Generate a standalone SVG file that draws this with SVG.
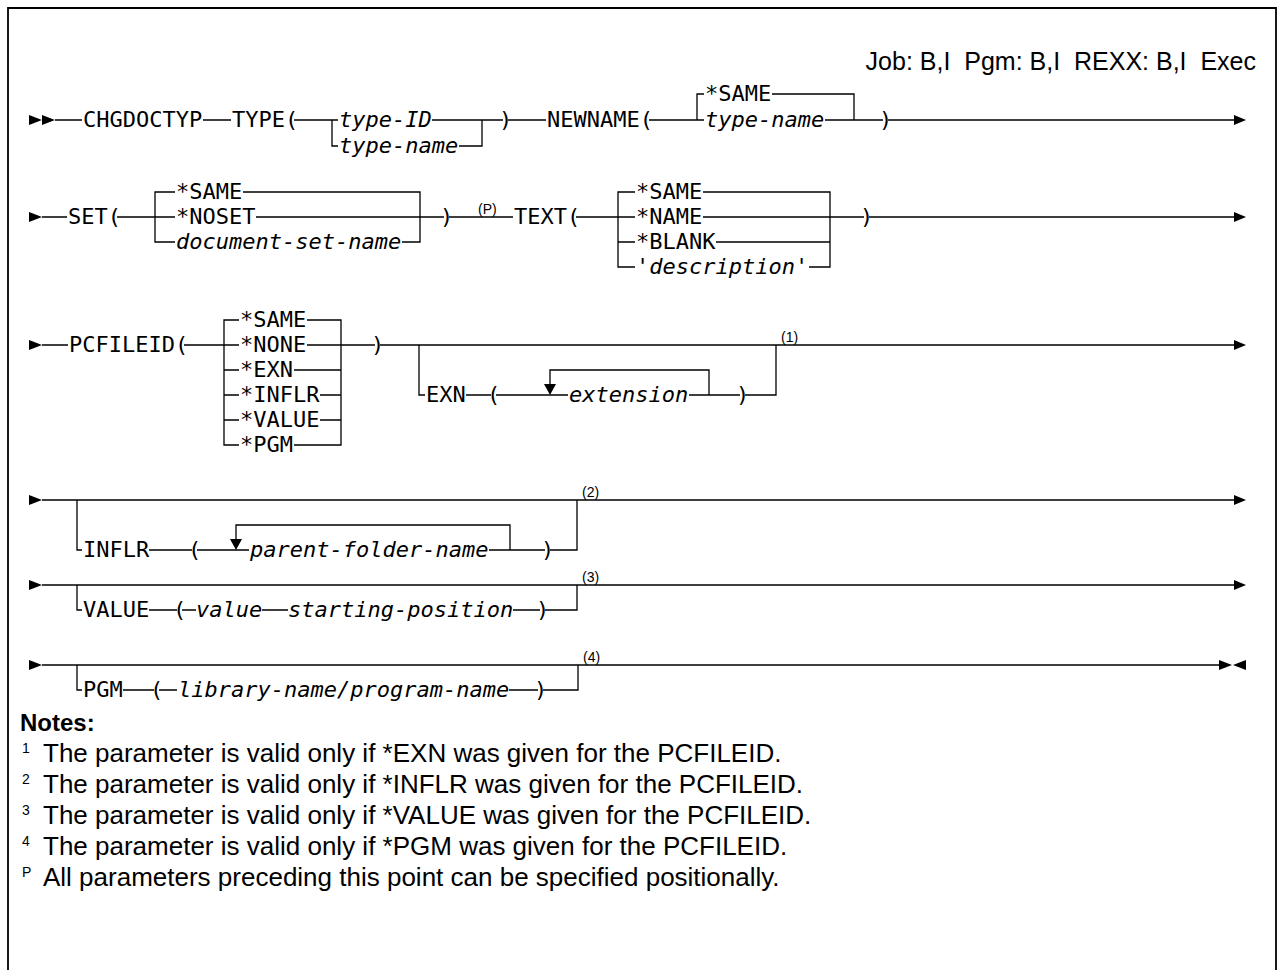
<svg xmlns="http://www.w3.org/2000/svg" width="1279" height="970" viewBox="0 0 1279 970">
<style>
.fr{stroke:#000;stroke-width:1.8;fill:none}
.l{stroke:#000;stroke-width:1.3;fill:none}
.a{fill:#000}
.k{font-family:"DejaVu Sans Mono",monospace;font-size:22px;fill:#000}
.v{font-style:italic}
.s{font-family:"Liberation Sans",Arial,sans-serif;font-size:14px;fill:#000}
.n{font-family:"Liberation Sans",Arial,sans-serif;font-size:26px;fill:#000}
.h{font-family:"Liberation Sans",Arial,sans-serif;font-size:25px;fill:#000;white-space:pre}
.b{font-family:"Liberation Sans",Arial,sans-serif;font-size:24px;font-weight:bold;fill:#000}
</style>
<rect width="1279" height="970" fill="#fff"/>
<path class="fr" d="M8,970 V8 H1276 V970"/>
<g id="header"><text class="h" x="1256" y="70" text-anchor="end">Job: B,I  Pgm: B,I  REXX: B,I  Exec</text></g>

<g id="connectors">
<polygon class="a" points="29,115 29,125 42,120"/>
<polygon class="a" points="42,115 42,125 55,120"/>
<path class="l" d="M55,120 H82 M203,120 H231 M294,120 H338 M432,120 H503 M508,120 H546 M649,120 H704 M825,120 H883 M888,120 H1234"/>
<path class="l" d="M332,120 V146 H338 M459,146 H482 V120"/>
<path class="l" d="M697,120 V94 H704 M772,94 H854 V120"/>
<polygon class="a" points="1234,115 1234,125 1246,120"/>
<polygon class="a" points="29,212 29,222 42,217"/>
<path class="l" d="M42,217 H67 M117,217 H175 M256,217 H444 M449,217 H513 M576,217 H635 M703,217 H864 M869,217 H1234"/>
<path class="l" d="M175,192 H155 V242 H175 M243,192 H420 V242 H402"/>
<path class="l" d="M635,192 H618 V267 H635 M618,242 H635 M703,192 H830 V267 H809 M716,242 H830"/>
<polygon class="a" points="1234,212 1234,222 1246,217"/>
<polygon class="a" points="29,340 29,350 42,345"/>
<path class="l" d="M42,345 H68 M184,345 H239 M307,345 H375 M380,345 H1234"/>
<path class="l" d="M239,320 H224 V445 H239 M224,370 H239 M224,395 H239 M224,420 H239"/>
<path class="l" d="M307,320 H341 V445 H294 M294,370 H341 M320,395 H341 M320,420 H341"/>
<path class="l" d="M419,345 V395 H425 M466,395 H491 M496,395 H568 M550,385 V370 H709 V395 M689,395 H740 M745,395 H776 V345"/>
<polygon class="a" points="544,384 556,384 550,395"/>
<polygon class="a" points="1234,340 1234,350 1246,345"/>
<polygon class="a" points="29,495 29,505 42,500"/>
<path class="l" d="M42,500 H1234 M77,500 V550 H82 M149,550 H192 M197,550 H249 M236,540 V525 H510 V550 M489,550 H545 M550,550 H577 V500"/>
<polygon class="a" points="230,539 242,539 236,550"/>
<polygon class="a" points="1234,495 1234,505 1246,500"/>
<polygon class="a" points="29,580 29,590 42,585"/>
<path class="l" d="M42,585 H1234 M77,585 V610 H82 M149,610 H177 M182,610 H196 M262,610 H288 M513,610 H540 M545,610 H577 V585"/>
<polygon class="a" points="1234,580 1234,590 1246,585"/>
<polygon class="a" points="29,660 29,670 42,665"/>
<path class="l" d="M42,665 H1219 M77,665 V690 H82 M123,690 H154 M159,690 H177 M509,690 H538 M543,690 H578 V665"/>
<polygon class="a" points="1219,660 1219,670 1232,665"/>
<polygon class="a" points="1246,660 1246,670 1233,665"/>
</g>

<g id="cmd"><text class="k" x="83" y="127">CHGDOCTYP</text></g>
<g id="type">
<text class="k" x="232" y="127">TYPE(</text>
<text class="k v" x="339" y="127">type-ID</text>
<text class="k v" x="339" y="153">type-name</text>
<text class="k" x="499" y="127">)</text>
</g>
<g id="newname">
<text class="k" x="547" y="127">NEWNAME(</text>
<text class="k" x="705" y="101">*SAME</text>
<text class="k v" x="705" y="127">type-name</text>
<text class="k" x="879" y="127">)</text>
</g>
<g id="set">
<text class="k" x="68" y="224">SET(</text>
<text class="k" x="176" y="199">*SAME</text>
<text class="k" x="176" y="224">*NOSET</text>
<text class="k v" x="176" y="249">document-set-name</text>
<text class="k" x="440" y="224">)</text>
<text class="s" x="478" y="214">(P)</text>
</g>
<g id="text">
<text class="k" x="514" y="224">TEXT(</text>
<text class="k" x="636" y="199">*SAME</text>
<text class="k" x="636" y="224">*NAME</text>
<text class="k" x="636" y="249">*BLANK</text>
<text class="k v" x="636" y="274">'description'</text>
<text class="k" x="860" y="224">)</text>
</g>
<g id="pcfileid">
<text class="k" x="69" y="352">PCFILEID(</text>
<text class="k" x="240" y="327">*SAME</text>
<text class="k" x="240" y="352">*NONE</text>
<text class="k" x="240" y="377">*EXN</text>
<text class="k" x="240" y="402">*INFLR</text>
<text class="k" x="240" y="427">*VALUE</text>
<text class="k" x="240" y="452">*PGM</text>
<text class="k" x="371" y="352">)</text>
</g>
<g id="exn">
<text class="k" x="426" y="402">EXN</text>
<text class="k" x="487" y="402">(</text>
<text class="k v" x="569" y="402">extension</text>
<text class="k" x="736" y="402">)</text>
<text class="s" x="781" y="342">(1)</text>
</g>
<g id="inflr">
<text class="k" x="83" y="557">INFLR</text>
<text class="k" x="188" y="557">(</text>
<text class="k v" x="250" y="557">parent-folder-name</text>
<text class="k" x="541" y="557">)</text>
<text class="s" x="582" y="497">(2)</text>
</g>
<g id="value">
<text class="k" x="83" y="617">VALUE</text>
<text class="k" x="173" y="617">(</text>
<text class="k v" x="196" y="617">value</text>
<text class="k v" x="288" y="617">starting-position</text>
<text class="k" x="536" y="617">)</text>
<text class="s" x="582" y="582">(3)</text>
</g>
<g id="pgm">
<text class="k" x="83" y="697">PGM</text>
<text class="k" x="150" y="697">(</text>
<text class="k v" x="178" y="697">library-name/program-name</text>
<text class="k" x="534" y="697">)</text>
<text class="s" x="583" y="662">(4)</text>
</g>

<g id="notes">
<text class="b" x="20" y="731">Notes:</text>
<text class="s" x="22" y="753">1</text>
<text class="n" x="43" y="762">The parameter is valid only if *EXN was given for the PCFILEID.</text>
<text class="s" x="22" y="784">2</text>
<text class="n" x="43" y="793">The parameter is valid only if *INFLR was given for the PCFILEID.</text>
<text class="s" x="22" y="815">3</text>
<text class="n" x="43" y="824">The parameter is valid only if *VALUE was given for the PCFILEID.</text>
<text class="s" x="22" y="846">4</text>
<text class="n" x="43" y="855">The parameter is valid only if *PGM was given for the PCFILEID.</text>
<text class="s" x="22" y="877">P</text>
<text class="n" x="43" y="886">All parameters preceding this point can be specified positionally.</text>
</g>
</svg>
